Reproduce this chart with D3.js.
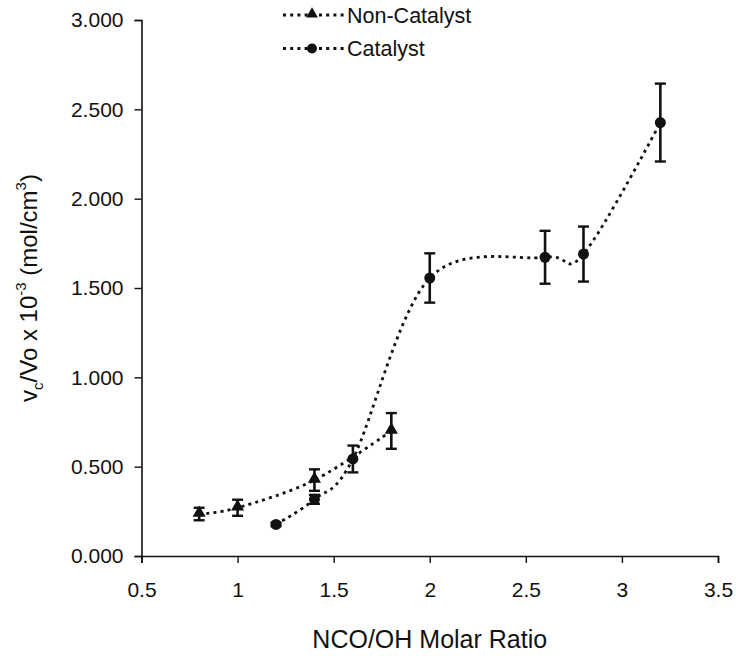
<!DOCTYPE html>
<html>
<head>
<meta charset="utf-8">
<script src="https://cdn.jsdelivr.net/npm/d3@7"></script>
<style>
  body { margin: 0; background: #fff; }
  svg { display: block; font-family: "Liberation Sans", Arial, Helvetica, sans-serif; }
</style>
</head>
<body>
<div id="chart"></div>
<script>
// NCO/OH molar ratio for each sample set
const nonCatalystX = [0.8, 1.0, 1.4, 1.8];
const nonCatalystY = [0.235, 0.270, 0.425, 0.700];
const nonCatalystErr = [0.035, 0.045, 0.060, 0.100];

const catalystX = [1.2, 1.4, 1.6, 2.0, 2.6, 2.8, 3.2];
const catalystY = [0.177, 0.317, 0.543, 1.556, 1.672, 1.690, 2.426];
const catalystErr = [0.010, 0.025, 0.075, 0.138, 0.148, 0.154, 0.218];

const xTickValues = [0.5, 1, 1.5, 2, 2.5, 3, 3.5];
const yTickValues = [0, 0.5, 1, 1.5, 2, 2.5, 3];

const seriesNames = ["Non-Catalyst", "Catalyst"];

const W = 736, H = 656;
const svg = d3.select("#chart").append("svg").attr("width", W).attr("height", H);

const x = d3.scaleLinear().domain([0.5, 3.5]).range([141.5, 718]);
const y = d3.scaleLinear().domain([0, 3]).range([556, 20]);

// Axes
const xAxis = d3.axisBottom(x).tickValues(xTickValues).tickSize(7).tickPadding(19)
  .tickFormat(d3.format("~g"));
const yAxis = d3.axisLeft(y).tickValues(yTickValues).tickSize(7).tickPadding(11)
  .tickFormat(d3.format(".3f"));

const gx = svg.append("g").attr("transform", `translate(0,${y(0)})`).call(xAxis);
const gy = svg.append("g").attr("transform", `translate(${x(0.5)},0)`).call(yAxis);
[gx, gy].forEach(g => {
  g.select(".domain").attr("stroke", "#111").attr("stroke-width", 1.6);
  g.selectAll(".tick line").attr("stroke", "#111").attr("stroke-width", 1.4);
  g.selectAll(".tick text").attr("fill", "#111").attr("font-size", 21)
    .attr("font-family", "\"Liberation Sans\", Arial, sans-serif");
});

// Axis titles
svg.append("text")
  .attr("x", (x(0.5) + x(3.5)) / 2).attr("y", 648)
  .attr("text-anchor", "middle").attr("font-size", 25).attr("fill", "#111")
  .text("NCO/OH Molar Ratio");

const yTitle = svg.append("text")
  .attr("transform", "translate(37,288) rotate(-90)")
  .attr("text-anchor", "middle").attr("font-size", 24).attr("fill", "#111");
yTitle.append("tspan").text("v");
yTitle.append("tspan").attr("font-size", 15).attr("dy", 6).text("c");
yTitle.append("tspan").attr("dy", -6).text("/Vo x 10");
yTitle.append("tspan").attr("font-size", 15).attr("dy", -11).text("-3");
yTitle.append("tspan").attr("dy", 11).text(" (mol/cm");
yTitle.append("tspan").attr("font-size", 15).attr("dy", -11).text("3");
yTitle.append("tspan").attr("dy", 11).text(")");

// Smoothed dotted connecting lines
const line = d3.line().x(d => x(d[0])).y(d => y(d[1])).curve(d3.curveCardinal.tension(0));
const dotStyle = sel => sel.attr("fill", "none").attr("stroke", "#111")
  .attr("stroke-width", 2.8).attr("stroke-dasharray", "3,4.2");

svg.append("path").datum(d3.zip(nonCatalystX, nonCatalystY)).attr("d", line).call(dotStyle);
svg.append("path").datum(d3.zip(catalystX, catalystY)).attr("d", line).call(dotStyle);

// Error bars
function errorBars(xs, ys, es) {
  const g = svg.append("g").attr("stroke", "#111");
  xs.forEach((xv, i) => {
    const cx = x(xv), top = y(ys[i] + es[i]), bot = y(ys[i] - es[i]);
    g.append("line").attr("x1", cx).attr("x2", cx).attr("y1", top).attr("y2", bot).attr("stroke-width", 2.6);
    g.append("line").attr("x1", cx - 5.5).attr("x2", cx + 5.5).attr("y1", top).attr("y2", top).attr("stroke-width", 2.4);
    g.append("line").attr("x1", cx - 5.5).attr("x2", cx + 5.5).attr("y1", bot).attr("y2", bot).attr("stroke-width", 2.4);
  });
}
errorBars(nonCatalystX, nonCatalystY, nonCatalystErr);
errorBars(catalystX, catalystY, catalystErr);

// Markers
const tri = d3.symbol().type(d3.symbolTriangle).size(75);
svg.append("g").selectAll("path").data(d3.zip(nonCatalystX, nonCatalystY)).join("path")
  .attr("d", tri).attr("transform", d => `translate(${x(d[0])},${y(d[1]) - 1})`).attr("fill", "#111");
svg.append("g").selectAll("circle").data(d3.zip(catalystX, catalystY)).join("circle")
  .attr("cx", d => x(d[0])).attr("cy", d => y(d[1])).attr("r", 5.5).attr("fill", "#111");

// Legend
const legend = svg.append("g");
seriesNames.forEach((name, i) => {
  const ly = 15 + i * 33.5;
  legend.append("line").attr("x1", 283).attr("x2", 344).attr("y1", ly).attr("y2", ly)
    .attr("stroke", "#111").attr("stroke-width", 2.8).attr("stroke-dasharray", "3,4.2");
  if (i === 0) {
    legend.append("path").attr("d", d3.symbol().type(d3.symbolTriangle).size(60)())
      .attr("transform", `translate(312,${ly - 1})`).attr("fill", "#111");
  } else {
    legend.append("circle").attr("cx", 312).attr("cy", ly).attr("r", 5).attr("fill", "#111");
  }
  legend.append("text").attr("x", 347).attr("y", ly + 7.7).attr("font-size", 21.5)
    .attr("fill", "#111").text(name);
});
</script>
</body>
</html>
